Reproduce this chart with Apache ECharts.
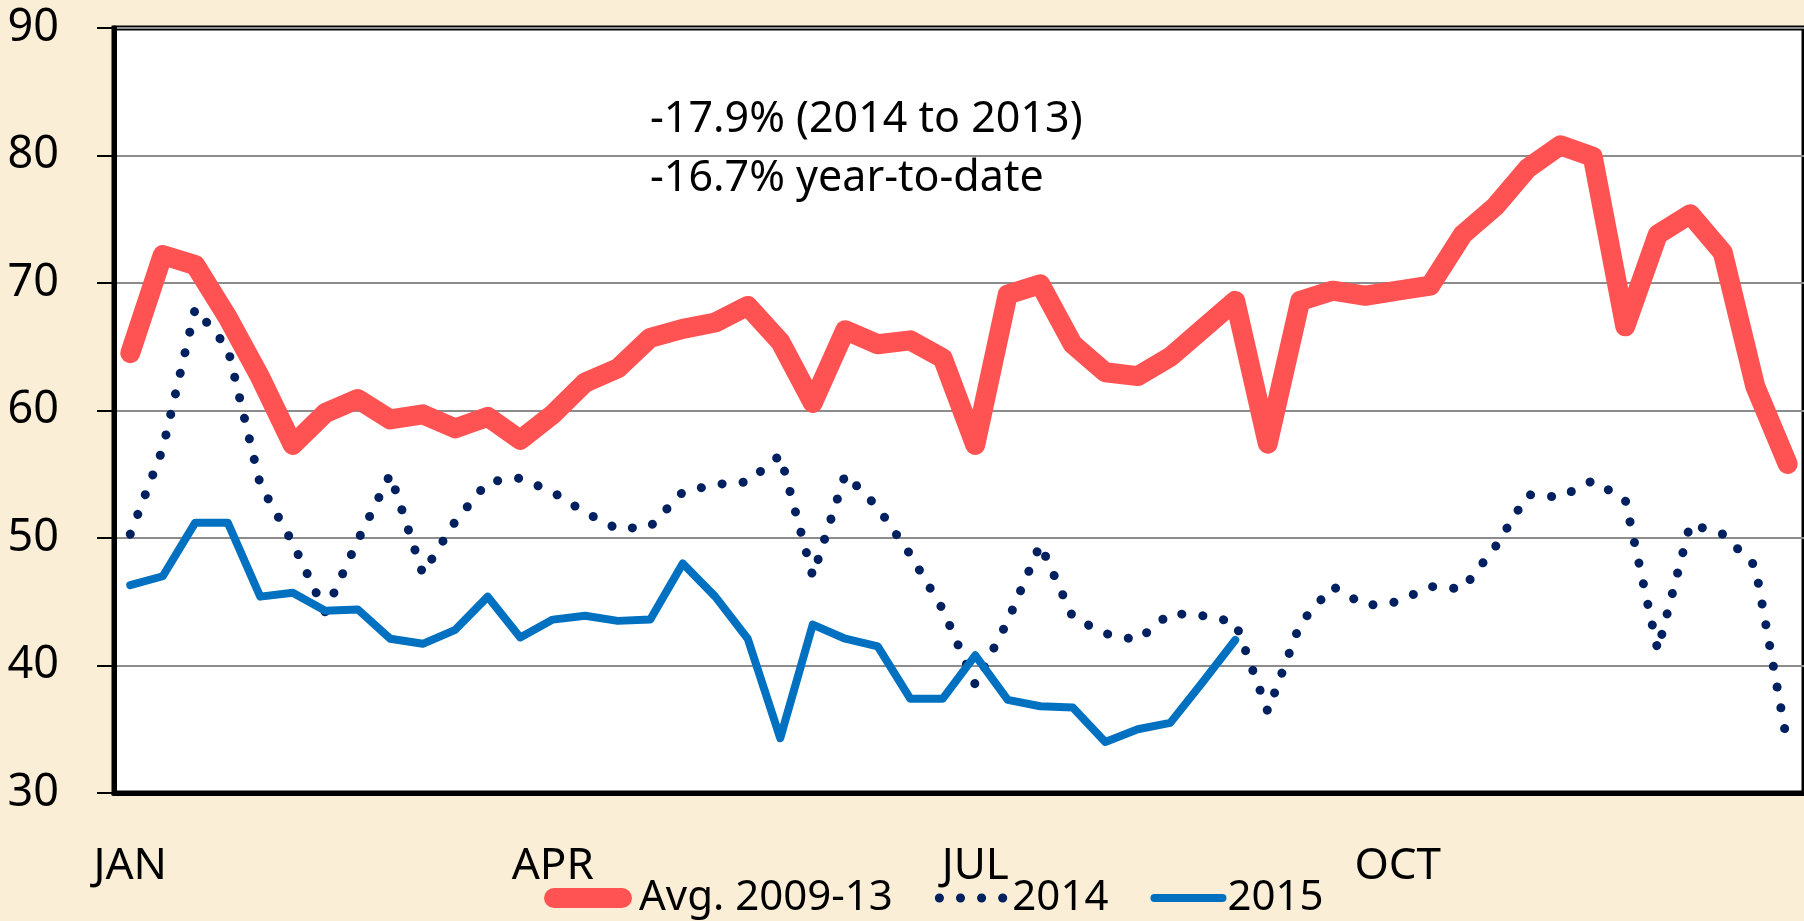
<!DOCTYPE html>
<html>
<head>
<meta charset="utf-8">
<script src="https://cdn.jsdelivr.net/npm/echarts@6/dist/echarts.min.js"></script>
<style>
  html, body { margin: 0; padding: 0; }
  body { background: #faefd6; }
  #chart { width: 1804px; height: 921px; }
</style>
</head>
<body>
<div id="chart"></div>
<script>
// weekly values, 52 weeks
const weeks = ['1', '2', '3', '4', '5', '6', '7', '8', '9', '10', '11', '12', '13',
  '14', '15', '16', '17', '18', '19', '20', '21', '22', '23', '24', '25', '26',
  '27', '28', '29', '30', '31', '32', '33', '34', '35', '36', '37', '38', '39',
  '40', '41', '42', '43', '44', '45', '46', '47', '48', '49', '50', '51', '52']
// month label shown under these week indexes
const monthWeeks = [0, 13, 26, 39]
const monthLabels = ['JAN', 'APR', 'JUL', 'OCT']

const avg0913 = [64.5, 72.2, 71.4, 67.3, 62.6, 57.3, 59.8, 60.9, 59.3, 59.7, 58.6, 59.5, 57.7,
  59.7, 62.2, 63.3, 65.7, 66.4, 66.9, 68.2, 65.4, 60.6, 66.3, 65.2, 65.5, 64.1,
  57.3, 69.1, 69.9, 65.2, 63.0, 62.7, 64.2, 66.4, 68.6, 57.4, 68.6, 69.4, 69.0,
  69.4, 69.8, 73.8, 76.0, 79.0, 80.8, 79.9, 66.6, 73.8, 75.4, 72.4, 61.9, 55.8]
const y2014 = [50.3, 57.0, 68.0, 64.9, 54.2, 49.6, 44.2, 49.8, 55.0, 47.2, 51.3, 54.4, 54.7,
  53.6, 52.0, 50.7, 50.9, 53.6, 54.2, 54.4, 56.5, 47.0, 55.0, 52.4, 48.7, 44.4,
  38.5, 43.5, 49.5, 43.8, 42.5, 42.0, 44.1, 43.9, 43.4, 36.4, 43.3, 46.2, 44.7,
  45.0, 46.2, 46.0, 49.3, 53.4, 53.2, 54.5, 53.0, 41.2, 51.1, 50.3, 47.8, 33.7]
const y2015 = [46.3, 47.0, 51.2, 51.2, 45.4, 45.7, 44.3, 44.4, 42.1, 41.7, 42.8, 45.4, 42.2,
  43.6, 43.9, 43.5, 43.6, 48.0, 45.4, 42.1, 34.3, 43.2, 42.1, 41.5, 37.4, 37.4,
  40.8, 37.3, 36.8, 36.7, 34.0, 35.0, 35.5, 38.7, 42.0]

const notes = ['-17.9% (2014 to 2013)', '-16.7% year-to-date']

const FONT = '"Noto Sans", sans-serif'
const RED = '#ff5252'
const NAVY = '#002060'
const BLUE = '#0070c0'

const myChart = echarts.init(document.getElementById('chart'))
const option = {
  animation: false,
  backgroundColor: 'transparent',
  textStyle: { fontFamily: FONT, color: '#000' },
  grid: {
    left: 114,
    top: 28,
    bottom: 128,
    right: -6,
    show: true,
    backgroundColor: '#fff',
    borderColor: '#000',
    borderWidth: 5
  },
  xAxis: {
    type: 'category',
    data: weeks,
    boundaryGap: true,
    axisLine: { lineStyle: { color: '#000', width: 5 } },
    axisTick: { interval: 0, length: 15, lineStyle: { color: '#000', width: 2 } },
    axisLabel: {
      interval: 0,
      margin: 51,
      fontSize: 44,
      color: '#000',
      fontFamily: FONT,
      formatter: function (value, index) {
        const k = monthWeeks.indexOf(index)
        return k >= 0 ? monthLabels[k] : ''
      }
    },
    splitLine: { show: false }
  },
  yAxis: {
    type: 'value',
    min: 30,
    max: 90,
    interval: 10,
    axisLine: { show: true, lineStyle: { color: '#000', width: 5 } },
    axisTick: { show: true, length: 17, lineStyle: { color: '#000', width: 2 } },
    axisLabel: { margin: 55, fontSize: 45, color: '#000', fontFamily: FONT },
    splitLine: { lineStyle: { color: '#8c8c8c', width: 2 } }
  },
  legend: {
    left: 544,
    top: 877,
    padding: 0,
    itemWidth: 68,
    itemHeight: 20,
    itemGap: 42,
    textStyle: { fontSize: 42, color: '#000', fontFamily: FONT },
    data: [
      {
        name: 'Avg. 2009-13',
        itemStyle: { opacity: 0 },
        lineStyle: { color: RED, width: 20, cap: 'round' },
        textStyle: { padding: [0, 0, 0, 12] }
      },
      {
        name: '2014',
        itemStyle: { opacity: 0 },
        lineStyle: { color: NAVY, width: 9, type: [0.1, 21], cap: 'round' },
        textStyle: { padding: [0, 0, 0, 0] }
      },
      {
        name: '2015',
        itemStyle: { opacity: 0 },
        lineStyle: { color: BLUE, width: 8, cap: 'round' },
        textStyle: { padding: [0, 0, 0, 0] }
      }
    ]
  },
  graphic: [
    {
      type: 'text',
      left: 650,
      top: 98,
      style: { text: notes[0], font: '43px ' + FONT, fill: '#000' }
    },
    {
      type: 'text',
      left: 650,
      top: 157,
      style: { text: notes[1], font: '43px ' + FONT, fill: '#000' }
    }
  ],
  series: [
    {
      name: 'Avg. 2009-13',
      type: 'line',
      data: avg0913,
      symbol: 'none',
      lineStyle: { color: RED, width: 20, cap: 'round', join: 'round' },
      itemStyle: { color: RED }
    },
    {
      name: '2014',
      type: 'line',
      data: y2014,
      symbol: 'none',
      lineStyle: { color: NAVY, width: 9, type: [0.1, 21], cap: 'round', join: 'round' },
      itemStyle: { color: NAVY }
    },
    {
      name: '2015',
      type: 'line',
      data: y2015,
      symbol: 'none',
      lineStyle: { color: BLUE, width: 8, cap: 'round', join: 'round' },
      itemStyle: { color: BLUE }
    }
  ]
}

myChart.setOption(option)
</script>
</body>
</html>
